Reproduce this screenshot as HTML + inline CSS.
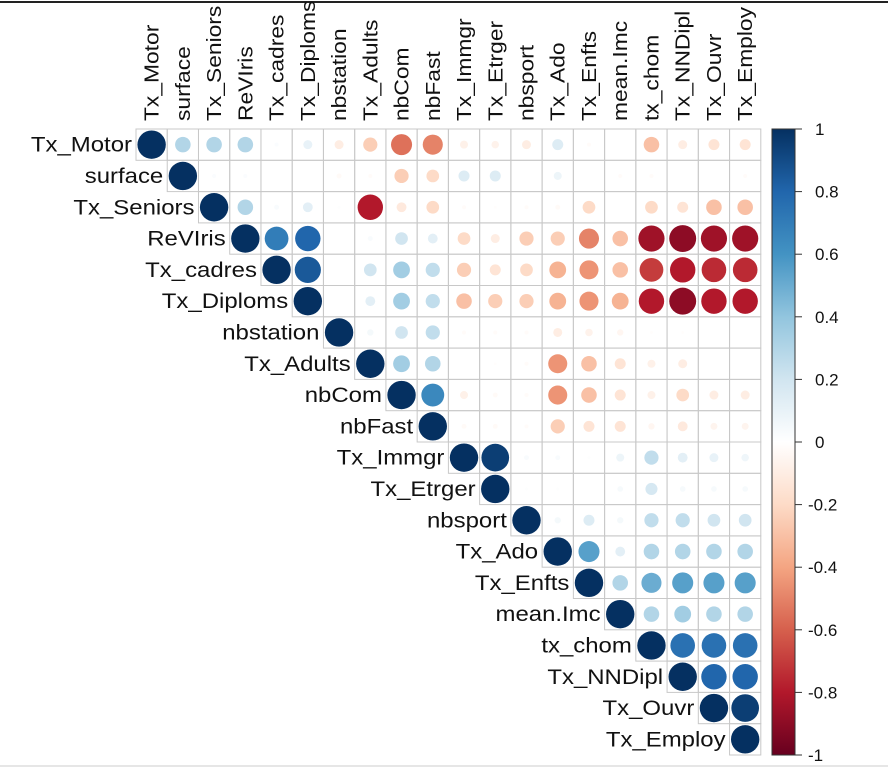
<!DOCTYPE html>
<html><head><meta charset="utf-8"><style>
html,body{margin:0;padding:0;background:#fff;}
svg{display:block;font-family:"Liberation Sans",sans-serif;}
</style></head><body>
<svg id="chart" width="888" height="769"></svg>
<script>
const labels=["Tx_Motor","surface","Tx_Seniors","ReVIris","Tx_cadres","Tx_Diploms","nbstation","Tx_Adults","nbCom","nbFast","Tx_Immgr","Tx_Etrger","nbsport","Tx_Ado","Tx_Enfts","mean.Imc","tx_chom","Tx_NNDipl","Tx_Ouvr","Tx_Employ"];
// upper-triangle rows (starting at the diagonal)
const row0=[1,.3,.3,.3,.02,.1,-.1,-.25,-.55,-.5,-.08,-.07,-.1,.15,-.02,0,-.3,-.1,-.15,-.15];
const row1=[1,.02,.02,0,0,-.03,-.02,-.25,-.2,.15,.15,0,.08,0,-.02,-.02,0,0,-.02];
const row2=[1,.3,.03,.12,.01,-.8,-.12,-.2,-.02,-.01,-.02,-.03,-.2,0,-.2,-.15,-.3,-.3];
const row3=[1,.7,.8,0,.03,.2,.12,-.2,-.1,-.25,-.25,-.5,-.3,-.85,-.9,-.85,-.85];
const row4=[1,.85,0,.2,.35,.25,-.25,-.15,-.2,-.35,-.45,-.3,-.7,-.8,-.75,-.75];
const row5=[1,0,.12,.35,.25,-.3,-.25,-.25,-.35,-.45,-.35,-.8,-.9,-.8,-.8];
const row6=[1,.05,.2,.25,-.02,-.02,-.02,-.1,-.07,-.05,-.01,-.01,0,0];
const row7=[1,.35,.3,0,-.01,-.02,-.45,-.3,-.15,-.08,-.1,0,0];
const row8=[1,.65,-.08,-.03,-.02,-.45,-.3,-.15,-.08,-.2,-.1,-.1];
const row9=[1,-.03,-.03,-.02,-.25,-.15,-.15,-.05,-.12,-.06,-.06];
const row10=[1,.95,.03,.03,.01,.08,.25,.12,.1,.07];
const row11=[1,.01,.01,0,.04,.18,.04,.04,.04];
const row12=[1,.05,.15,.05,.25,.25,.2,.2];
const row13=[1,.55,.12,.3,.3,.3,.3];
const row14=[1,.3,.5,.55,.55,.55];
const row15=[1,.3,.35,.3,.3];
const row16=[1,.75,.75,.75];
const row17=[1,.8,.8];
const row18=[1,.95];
const row19=[1];
const rows=[row0,row1,row2,row3,row4,row5,row6,row7,row8,row9,row10,row11,row12,row13,row14,row15,row16,row17,row18,row19];
const ticks=[1,0.8,0.6,0.4,0.2,0,-0.2,-0.4,-0.6,-0.8,-1];

const NS="http://www.w3.org/2000/svg";
const svg=document.getElementById('chart');
const X0=136,Y0=129,CW=31.24,CH=31.3;
const xc=j=>X0+(j+0.5)*CW, yc=i=>Y0+(i+0.5)*CH;
const pal=["#67001F","#B2182B","#D6604D","#F4A582","#FDDBC7","#FFFFFF","#D1E5F0","#92C5DE","#4393C3","#2166AC","#053061"];
function hex(h){return [1,3,5].map(k=>parseInt(h.substr(k,2),16));}
function col(v){const t=(v+1)/2*10;const k=Math.min(9,Math.floor(t));const f=t-k;const a=hex(pal[k]),b=hex(pal[k+1]);
 return "rgb("+a.map((x,i)=>Math.round(x+(b[i]-x)*f)).join(",")+")";}
function mk(tag,at,parent){const e=document.createElementNS(NS,tag);for(const k in at)e.setAttribute(k,at[k]);(parent||svg).appendChild(e);return e;}
function stretch(t,f){try{const w=t.getComputedTextLength();if(w>0){t.setAttribute('textLength',(w*f).toFixed(1));t.setAttribute('lengthAdjust','spacingAndGlyphs');}}catch(e){}}

const topLine=mk('line',{x1:0,y1:2,x2:888,y2:2,stroke:'#222','stroke-width':2});


const botLine=mk('line',{x1:0,y1:766,x2:888,y2:766,stroke:'#ccc','stroke-width':1});



const grid=mk('g',{});


const circles=mk('g',{});


rows.forEach((r,i)=>{
 r.forEach((v,k)=>{
  const j=i+k;
  const cell=mk('rect',{x:X0+j*CW,y:Y0+i*CH,width:CW,height:CH,fill:'none',stroke:'#c8c8c8','stroke-width':1},grid);
  
  
  const rad=Math.sqrt(Math.abs(v))*14.2;
  if(rad>0.3){
   const c=mk('circle',{cx:xc(j),cy:yc(i),r:rad,fill:col(v)},circles);
   
   
  }
 });
});
labels.forEach((l,i)=>{
 const t=mk('text',{x:X0+i*CW-4,y:yc(i)+7,'text-anchor':'end','font-size':21,fill:'#111'});
 t.textContent=l;
 
 
 stretch(t,1.14);
 const c=mk('text',{x:0,y:0,'text-anchor':'start','font-size':20,fill:'#111',transform:'translate('+(xc(i)+7)+',121) rotate(-90)'});
 c.textContent=l;
 
 
 stretch(c,1.14);
});
// colorbar
const defs=mk('defs',{});
const lg=mk('linearGradient',{id:'cb',x1:0,y1:0,x2:0,y2:1},defs);
pal.slice().reverse().forEach((p,k)=>mk('stop',{offset:(k/10),'stop-color':p},lg));
const CBT=129,CBB=755;
const cbar=mk('rect',{x:772,y:CBT,width:23,height:CBB-CBT,fill:'url(#cb)',stroke:'#333','stroke-width':1});


const cby=v=>CBT+(1-v)/2*(CBB-CBT);
ticks.forEach(v=>{
 const tk=mk('line',{x1:795,x2:802,y1:cby(v),y2:cby(v),stroke:'#333','stroke-width':1});
 
 
 const tl=mk('text',{x:v<0?808:815,y:cby(v)+6,'font-size':17,fill:'#111'});
 tl.textContent=String(v);
 
 
});
</script>
</body></html>
